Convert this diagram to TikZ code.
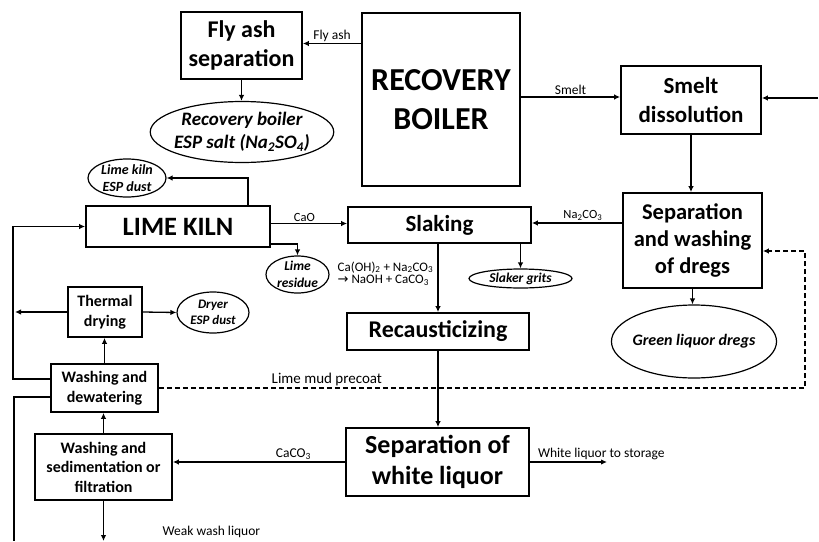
\documentclass[tikz,border=0pt]{standalone}
\usepackage{fontspec}
\setmainfont{Carlito}
\newfontfamily\arrowfont{DejaVu Sans}
\usetikzlibrary{arrows.meta,shapes.geometric}
\newcommand\pts[1]{\fontsize{#1}{\fpeval{1.22*#1}}\selectfont}

\begin{document}
\begin{tikzpicture}[
    x=1pt, y=-1pt,
    box/.style={
        draw,
        line width=1.7pt,
        align=center,
        inner sep=0pt,
        font=\bfseries\pts{#1},
    },
    blob/.style={
        draw,
        ellipse,
        line width=1.2pt,
        align=center,
        inner sep=-3pt,
        font=\bfseries\itshape\pts{#1},
    },
    flow/.style={-{Latex[length=6pt,width=5.5pt]}, line width=1.3pt},
    pipe/.style={line width=1.3pt},
    lbl/.style={font=\pts{13.5}, inner sep=1.5pt},
]
\useasboundingbox (0,0) rectangle (819,541);

\node[box=24, minimum width=121, minimum height=67] (flyash) at (241.5,45.5) {Fly ash\\separation};
\node[box=32, minimum width=158, minimum height=173] (boiler) at (441,99.5) {RECOVERY\\BOILER};
\node[blob=19, minimum width=162, minimum height=61] (ashsalt) at (242,132) {Recovery boiler\\ESP salt (Na\textsubscript{2}SO\textsubscript{4})};
\node[box=23, minimum width=140, minimum height=68] (smelt) at (691,100) {Smelt\\dissolution};

\node[blob=14, minimum width=78, minimum height=38] (kilndust) at (127,178) {Lime kiln\\ESP dust};
\node[box=26.5, minimum width=184, minimum height=41] (kiln) at (178,226.5) {LIME KILN};
\node[blob=13.5, minimum width=63, minimum height=37, inner sep=-5pt] (residue) at (297.5,274.5) {Lime\\residue};
\node[box=23, minimum width=183, minimum height=36] (slaking) at (439.5,225) {Slaking};
\node[blob=13.5, minimum width=103, minimum height=19] (grits) at (520.5,278.5) {Slaker grits};
\node[box=22.5, minimum width=139, minimum height=95] (dregs) at (692.5,240.5) {Separation\\and washing\\of dregs};
\node[lbl, anchor=west, align=left, font=\fontsize{13}{12.5}\selectfont] (rxn) at (336,273.5) {Ca(OH)\textsubscript{2} + Na\textsubscript{2}CO\textsubscript{3}\\{\arrowfont →} NaOH + CaCO\textsubscript{3}};

\node[box=16, minimum width=74, minimum height=50] (thermal) at (105,312) {Thermal\\drying};
\node[blob=13, minimum width=72, minimum height=41] (dryerdust) at (213,312.5) {Dryer\\ESP dust};
\node[box=24, minimum width=182, minimum height=37] (recaust) at (438,331.5) {Recausticizing};
\node[blob=16, minimum width=164, minimum height=73] (green) at (694,341.5) {Green liquor dregs};

\node[box=16, minimum width=107, minimum height=48] (washdew) at (104.5,388) {Washing and\\dewatering};
\node[box=16, minimum width=137, minimum height=66] (washsed) at (103.5,467) {Washing and\\sedimentation or\\filtration};
\node[box=26, minimum width=183, minimum height=68] (white) at (437.5,462) {Separation of\\white liquor};

\coordinate (rin) at (818,98);
\coordinate (store) at (607,462);
\coordinate (weak) at (103.5,541);
\coordinate (dryleft) at (15,312);
\coordinate (loopup) at (13,379);
\coordinate (loopdown) at (14,397);
\coordinate (leftexit) at (14,541);
\coordinate (dashturn) at (805,388);

% boiler side
\draw[flow] ([yshift=2pt]flyash.east -| boiler.west) -- ([yshift=2pt]flyash.east) node[lbl, midway, above] {Fly ash};
\draw[flow] (flyash.south) -- (flyash.south |- ashsalt.north);
\draw[flow] ([yshift=3pt]boiler.east |- smelt.west) -- ([yshift=3pt]smelt.west) node[lbl, midway, above] {Smelt};
\draw[flow] (rin) -- (rin -| smelt.east);
\draw[flow] (smelt.south) -- (smelt.south |- dregs.north);
\draw[flow] ([yshift=17.5pt]dregs.west) -- ([yshift=17.5pt]dregs.west -| slaking.east) node[lbl, pos=0.435, above, font=\pts{12.5}] {Na\textsubscript{2}CO\textsubscript{3}};
\draw[flow] (dregs.south) -- (dregs.south |- green.north);

% kiln and causticizing
\draw[flow] ([yshift=3pt]kiln.east) -- ([yshift=3pt]kiln.east -| slaking.west) node[lbl, pos=0.44, above, font=\pts{12.5}] {CaO};
\draw[flow] ([xshift=70pt]kiln.north) |- (kilndust.east);
\draw[flow] ([yshift=4pt]kiln.south east) -| (residue.north);
\draw[flow] (recaust.north |- slaking.south) -- (recaust.north);
\draw[flow] (grits.north |- slaking.south) -- (grits.north);
\draw[flow] (recaust.south) -- (recaust.south |- white.north);
\draw[flow] (white.east) -- (store) node[lbl, pos=0, anchor=south west, xshift=6pt] {White liquor to storage};
\draw[flow] (white.west) -- (white.west -| washsed.east) node[lbl, pos=0.3, above] {CaCO\textsubscript{3}};

% lime mud handling
\draw[flow] (washsed.north) -- (washsed.north |- washdew.south);
\draw[flow] (washsed.south) -- (weak) node[lbl, pos=0.78, anchor=west, xshift=57pt] {Weak wash liquor};
\draw[flow] (washdew.north) -- (washdew.north |- thermal.south);
\draw[flow] (thermal.east) -- (dryerdust.west);
\draw[flow] (thermal.west) -- (dryleft);
\draw[flow] ([yshift=9pt]washdew.west) -- (loopup) |- (kiln.west);
\draw[pipe] ([yshift=-9pt]washdew.west) -- (loopdown) -- (leftexit);
\draw[flow, dash pattern=on 5pt off 3pt] (washdew.east) -- (dashturn) node[lbl, pos=0.26, above, solid, font=\pts{15}] {Lime mud precoat} |- ([yshift=-10.5pt]dregs.east);

\end{tikzpicture}
\end{document}
